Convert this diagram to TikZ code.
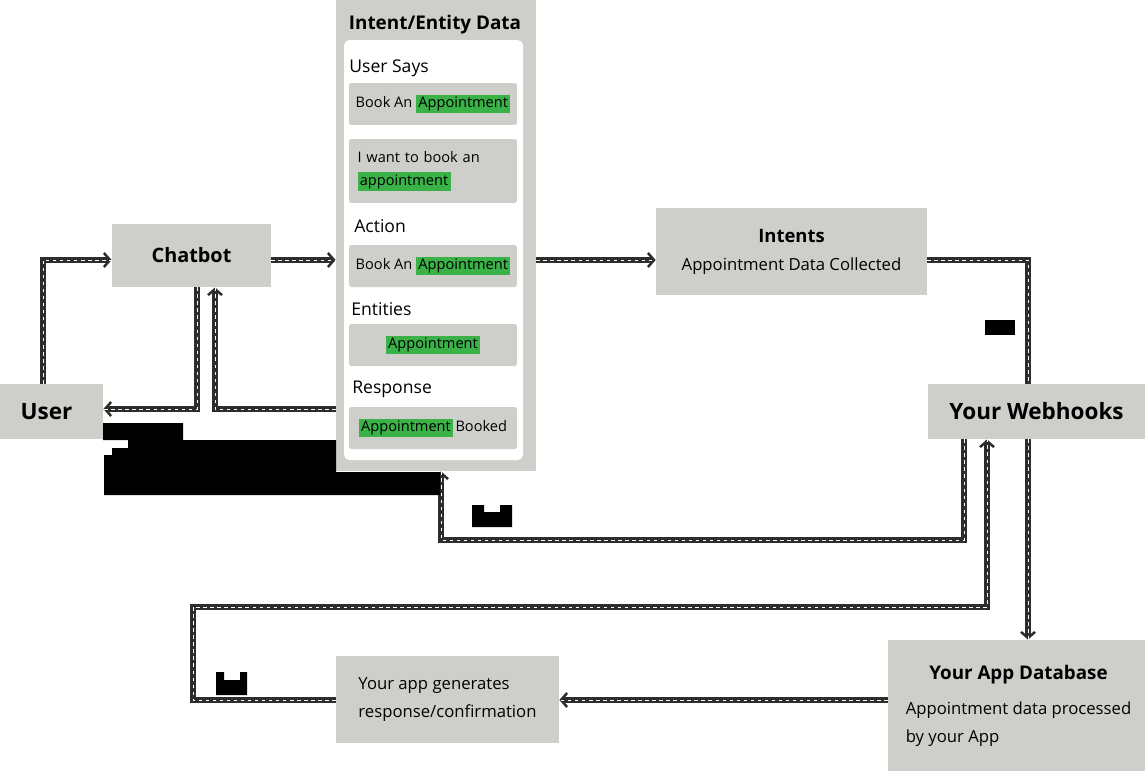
\documentclass[tikz,border=0pt]{standalone}
\usepackage{fontspec}
\setmainfont{Open Sans}
\usetikzlibrary{arrows.meta,positioning,calc}

\definecolor{boxgray}{RGB}{206,207,203}
\definecolor{linegray}{RGB}{45,45,45}
\definecolor{hlgreen}{RGB}{58,178,72}
\newcommand{\hl}[1]{{\setlength{\fboxsep}{1.3pt}\colorbox{hlgreen}{#1}}}

\begin{document}
\begin{tikzpicture}[
				x=0.02cm,y=-0.02cm,
				box/.style={fill=boxgray,inner sep=0pt,font=\fontsize{9.5}{16}\selectfont},
				heading/.style={font=\fontsize{12.8}{14}\selectfont\bfseries},
				slot/.style={fill=boxgray,rounded corners=1pt,minimum width=3.36cm,minimum height=0.84cm,inner sep=0pt,font=\fontsize{8.3}{13}\selectfont},
				caption/.style={anchor=west,inner sep=0pt,font=\fontsize{10}{12}\selectfont},
				conn/.style={draw=linegray,line width=3.8pt,-{Straight Barb[length=3.5pt,width=8pt,line width=1.4pt]},
						postaction={draw=white,line width=0.45pt,dash pattern=on 2pt off 2pt,-}},
				blob/.style={fill=black}
			]
			\useasboundingbox (0,0) rectangle (1145,771);
			% boxes
			\node[box,heading,minimum width=2.06cm,minimum height=1.1cm,text width=1.9cm,align=center] (user) at (51.5,411.5) {\hspace*{-0.2cm}User};
			\node[box,heading,font=\fontsize{11.3}{14}\selectfont\bfseries,minimum width=3.18cm,minimum height=1.26cm] (chatbot) at (191.5,255.5) {Chatbot};
			\node[box,minimum width=4cm,minimum height=9.42cm] (panel) at (436,235.5) {};
			\node[heading,font=\fontsize{10.75}{12}\selectfont\bfseries] (paneltitle) at (435,25) {Intent/Entity Data};
			\fill[white,rounded corners=3pt] (344,40) rectangle (523,460);
			\node[caption] (says) at (349,68) {User Says};
			\node[slot] (says1) at (433,104) {Book An \hl{Appointment}};
			\node[slot,minimum height=1.28cm,align=left,text width=3.02cm] (says2) at (433,171) {I want to book an\\\hl{appointment}};
			\node[caption] (action) at (354,226) {Action};
			\node[slot] (action1) at (433,266) {Book An \hl{Appointment}};
			\node[caption] (entities) at (351,309) {Entities};
			\node[slot] (entities1) at (433,345) {\hl{Appointment}};
			\node[caption] (response) at (352,389) {Response};
			\node[slot] (response1) at (433,428) {\hl{Appointment}\,Booked};
			\node[box,align=center,minimum width=5.42cm,minimum height=1.74cm] (intents) at (791.5,251.5)
				{{\fontsize{10.5}{12}\selectfont\bfseries Intents}\\Appointment Data Collected};
			\node[box,heading,minimum width=4.34cm,minimum height=1.1cm] (webhooks) at (1036.5,411.5) {Your Webhooks};
			\node[box,minimum width=5.14cm,minimum height=2.62cm] (appdb) at (1016.5,705.5)
				{\hspace*{0.08cm}\begin{tabular}{@{}l@{}}\multicolumn{1}{c}{\fontsize{10.7}{12}\selectfont\bfseries Your App Database}\\[4pt]
					Appointment data processed\\by your App\end{tabular}};
			\node[box,align=left,minimum width=4.46cm,minimum height=1.74cm] (appgen) at (447.5,699.5)
				{Your app generates\\response/confirmation};
			% connectors
			\draw[conn] (user.north -| 43,0) |- (chatbot.west |- 0,260);
			\draw[conn] (chatbot.east |- 0,260) -- (panel.west |- 0,260);
			\draw[conn] (panel.east |- 0,260) -- (intents.west |- 0,260);
			\draw[conn,-] (intents.east |- 0,260) -| (webhooks.north -| 1028,0);
			\draw[conn] (chatbot.south -| 197,0) |- (user.east |- 0,409);
			\draw[conn] (panel.west |- 0,409) -| (chatbot.south -| 215,0);
			\draw[conn] (webhooks.south -| 964,0) |- (441,540) -- (panel.south -| 441,0);
			\draw[conn] (appgen.west |- 0,700) -| (193,607) -| (webhooks.south -| 987,0);
			\draw[conn] (webhooks.south -| 1028,0) -- (appdb.north -| 1028,0);
			\draw[conn] (appdb.west |- 0,700) -- (appgen.east |- 0,700);
			% label blobs
			\fill[blob] (103,423) -- (183,423) -- (183,440) -- (336,440) -- (336,472) -- (440,472) -- (440,495)
				-- (104,495) -- (104,455) -- (112,455) -- (112,448) -- (128,448) -- (128,440) -- (103,440) -- cycle;
			\fill[blob] (985,320) rectangle (1015,335);
			\fill[blob] (472,505) -- (484,505) -- (484,512) -- (500,512) -- (500,505) -- (512,505) -- (512,527) -- (472,527) -- cycle;
			\fill[blob] (216,672) -- (224,672) -- (224,680) -- (240,680) -- (240,672) -- (247,672) -- (247,695) -- (216,695) -- cycle;
		\end{tikzpicture}
\end{document}
